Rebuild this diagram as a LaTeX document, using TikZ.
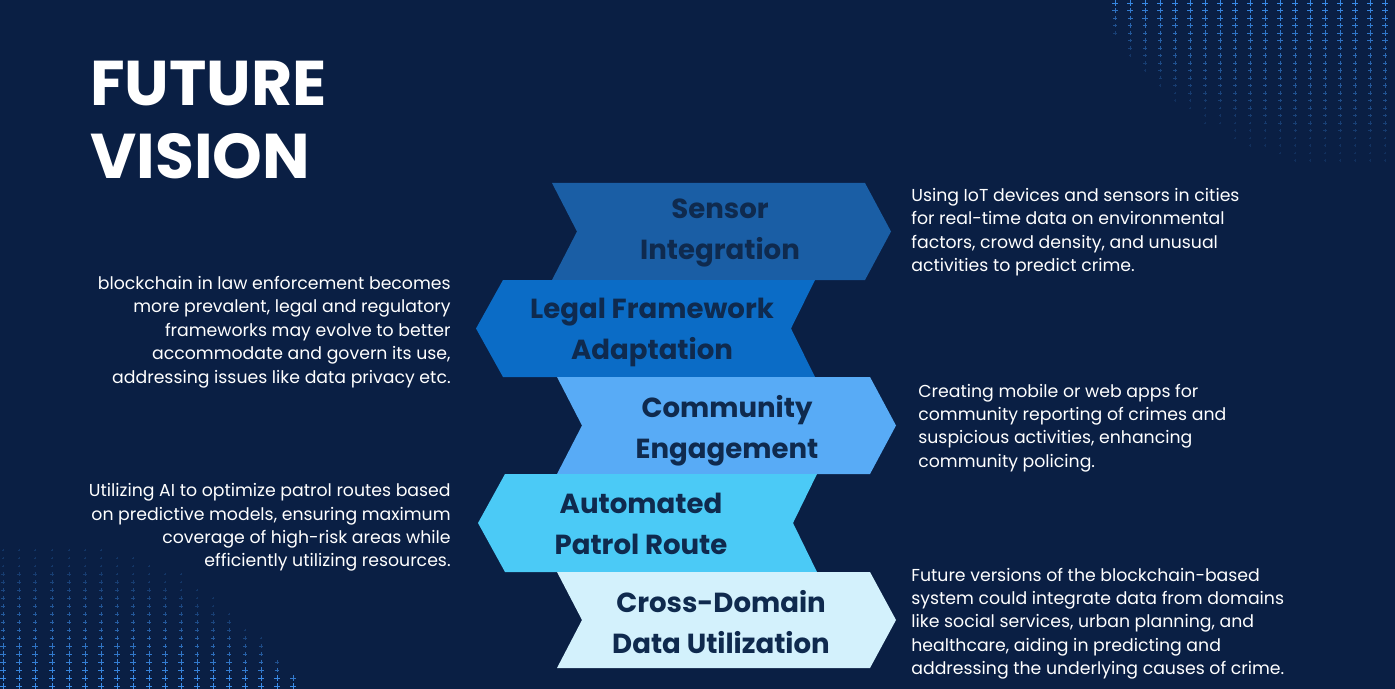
\documentclass[tikz,border=0pt]{standalone}
\usepackage{fontspec}
\setmainfont{Poppins}
\usetikzlibrary{calc}
\definecolor{Backdrop}{HTML}{0A1F44}
\definecolor{Sensor}{HTML}{1A5EA5}
\definecolor{Legal}{HTML}{0B6CC6}
\definecolor{Community}{HTML}{58ABF6}
\definecolor{Patrol}{HTML}{4BCAF6}
\definecolor{CrossDom}{HTML}{D3F1FC}
\definecolor{Ink}{HTML}{0F2A4E}
\definecolor{Dots}{HTML}{3B8DEA}
% right-pointing chevron: left x, right x, top y, bottom y, colour
\newcommand{\chevright}[5]{\fill[#5] (#1,#3) -- (#2,#3) -- ($(#2,#3)!0.5!(#2,#4)+(26,0)$) -- (#2,#4) -- (#1,#4) -- ($(#1,#3)!0.5!(#1,#4)+(25,0)$) -- cycle;}
% left-pointing chevron
\newcommand{\chevleft}[5]{\fill[#5] (#1,#3) -- (#2,#3) -- ($(#2,#3)!0.5!(#2,#4)+(-24,0)$) -- (#2,#4) -- (#1,#4) -- ($(#1,#3)!0.5!(#1,#4)+(-27,0)$) -- cycle;}
\begin{document}
\begin{tikzpicture}[x=0.02cm,y=-0.02cm,
  title/.style={text=white,font=\fontsize{36}{41.5}\selectfont\bfseries,align=left,inner sep=0pt},
  chevlabel/.style={text=Ink,font=\fontsize{15.7}{23.3}\selectfont\bfseries,align=center,inner sep=0pt},
  blurb/.style={text=white,font=\fontsize{9.85}{13.3}\selectfont,inner sep=0pt},
  plusmark/.style={draw=Dots,line width=0.55pt}]
  \fill[Backdrop] (0,0) rectangle (1395,689);
  \useasboundingbox (0,0) rectangle (1395,689);
  % dotted corners
  \foreach \cx/\cb in {1115/35,1130/58,1145/75,1160/92,1175/105,1190/115,1205/123,1220/130,1235/138,1250/146,1265/152,1280/158,1295/162,1310/164,1325/165,1340/165,1355/165,1370/165,1385/165}{
    \foreach \cy in {3,10.5,...,\cb}{
      \pgfmathsetmacro\op{max(0.15,1-\cy/(\cb+12))}
      \pgfmathsetmacro\sz{1+2*\op}
      \draw[plusmark,opacity=\op] (\cx-\sz,\cy) -- (\cx+\sz,\cy) (\cx,\cy-\sz) -- (\cx,\cy+\sz);
    }
  }
  \foreach \cx/\ct in {3/548,19/545,35/545,52/543,69/545,85/546,101/548,117/553,133/555,149/562,165/567,181/573,197/590,213/598,229/607,245/625,261/635,277/658,293/683}{
    \foreach \cy in {686,678,...,\ct}{
      \pgfmathsetmacro\op{max(0.2,min(1,(\cy-\ct+10)/(689-\ct)))}
      \pgfmathsetmacro\sz{1+2*\op}
      \draw[plusmark,opacity=\op] (\cx-\sz,\cy) -- (\cx+\sz,\cy) (\cx,\cy-\sz) -- (\cx,\cy+\sz);
    }
  }
  % chevrons
  \chevright{552}{865}{183}{280}{Sensor}
  \chevleft{503}{815}{280}{377}{Legal}
  \chevright{557}{870}{377}{474}{Community}
  \chevleft{505}{817}{474}{572}{Patrol}
  \chevright{557}{870}{572}{668}{CrossDom}
  \node[chevlabel] (sensor) at (720,233) {Sensor\\Integration};
  \node[chevlabel] (legal) at (652,332) {Legal Framework\\Adaptation};
  \node[chevlabel] (community) at (727,431) {Community\\Engagement};
  \node[chevlabel] (patrol) at (641,524) {Automated\\Patrol Route};
  \node[chevlabel] (crossdom) at (721,622) {Cross-Domain\\Data Utilization};
  % title and texts
  \node[title,anchor=west] (heading) at (90,120) {FUTURE\\VISION};
  \node[blurb,anchor=west,align=left] (sensortxt) at (911,232) {Using IoT devices and sensors in cities\\for real-time data on environmental\\factors, crowd density, and unusual\\activities to predict crime.};
  \node[blurb,anchor=east,align=right] (legaltxt) at (451,332) {blockchain in law enforcement becomes\\more prevalent, legal and regulatory\\frameworks may evolve to better\\accommodate and govern its use,\\addressing issues like data privacy etc.};
  \node[blurb,anchor=west,align=left] (communitytxt) at (918,428) {Creating mobile or web apps for\\community reporting of crimes and\\suspicious activities, enhancing\\community policing.};
  \node[blurb,anchor=east,align=right] (patroltxt) at (451,527.5) {Utilizing AI to optimize patrol routes based\\on predictive models, ensuring maximum\\coverage of high-risk areas while\\efficiently utilizing resources.};
  \node[blurb,anchor=west,align=left] (crossdomtxt) at (911,623.5) {Future versions of the blockchain-based\\system could integrate data from domains\\like social services, urban planning, and\\healthcare, aiding in predicting and\\addressing the underlying causes of crime.};
\end{tikzpicture}
\end{document}
